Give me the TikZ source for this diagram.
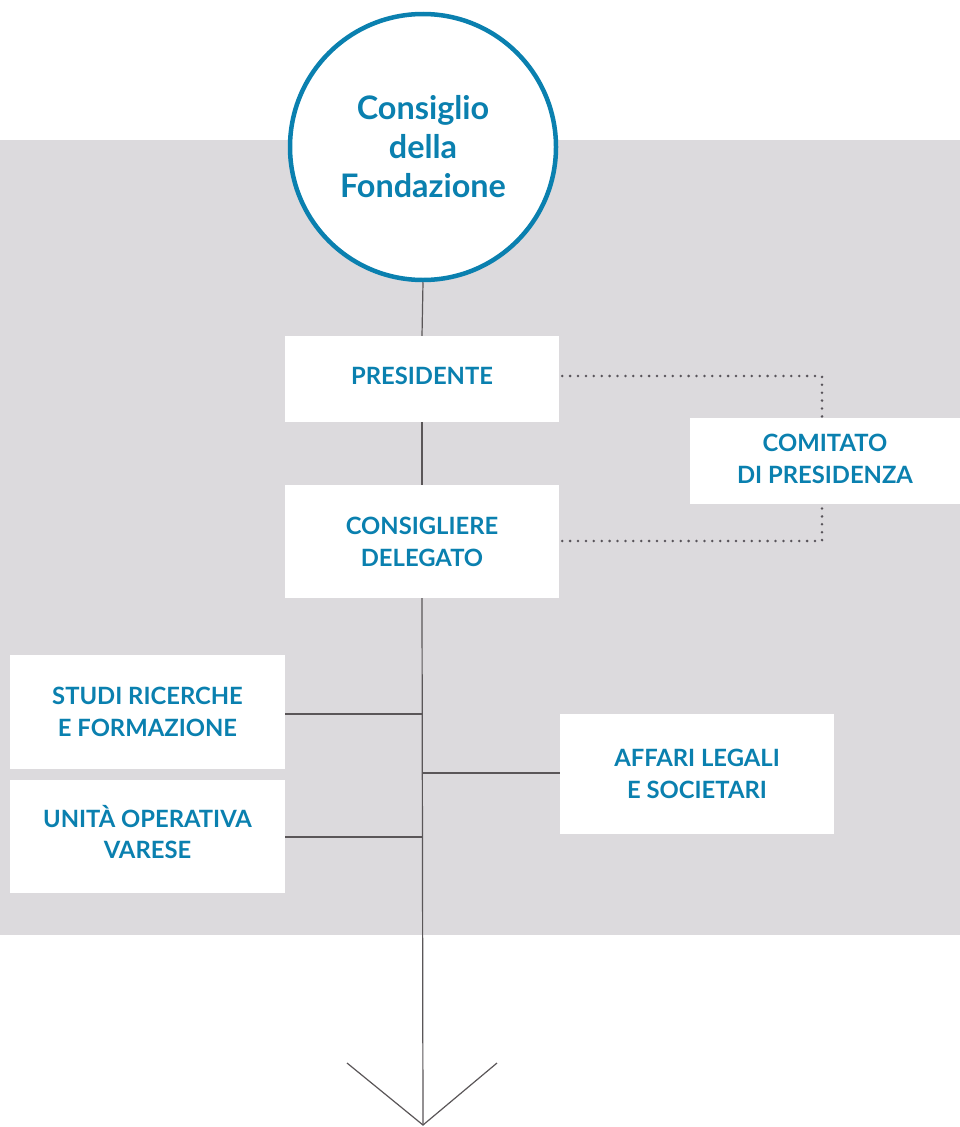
\documentclass[tikz,border=0pt]{standalone}
\usepackage{fontspec}
\setmainfont{Lato}
\definecolor{bgray}{HTML}{DCDADD}
\definecolor{tblue}{HTML}{0A80AF}
\definecolor{lgray}{HTML}{5A5658}
\definecolor{dgray}{HTML}{58545A}
\begin{document}
\begin{tikzpicture}[x=1pt,y=-1pt,
  box/.style={fill=white,draw=none,inner sep=0pt,align=center,text=tblue,
    font=\fontsize{23.8}{32}\selectfont\bfseries},
  conn/.style={draw=lgray,line width=1.2pt},
  dots/.style={draw=dgray,line width=2.8pt,line cap=round,dash pattern=on 0pt off 7.9pt}]
\useasboundingbox (0,0) rectangle (960,1127);
\fill[white] (0,0) rectangle (960,1127);
\fill[bgray] (0,140) rectangle (960,935);
% nodes
\node[box,minimum width=274pt,minimum height=86pt] (pres) at (422,379) {\raisebox{7pt}{PRESIDENTE}};
\node[box,minimum width=274pt,minimum height=113pt] (cons) at (422,541.5) {CONSIGLIERE\\DELEGATO};
\node[box,minimum width=270pt,minimum height=86pt] (comi) at (825,461) {\raisebox{1pt}{\begin{tabular}{@{}c@{}}COMITATO\\[-0.5pt]DI PRESIDENZA\end{tabular}}};
\node[box,minimum width=275pt,minimum height=114pt] (studi) at (147.5,711.5) {STUDI RICERCHE\\E FORMAZIONE};
\node[box,minimum width=275pt,minimum height=113pt] (unita) at (147.5,836.5) {\raisebox{5pt}{\begin{tabular}{@{}c@{}}UNITÀ OPERATIVA\\[-0.5pt]VARESE\end{tabular}}};
\node[box,minimum width=274pt,minimum height=120pt] (aff) at (697,774) {AFFARI LEGALI\\E SOCIETARI};
% trunk
\coordinate (tip) at (423,1125);
\coordinate (armL) at (347,1063);
\coordinate (armR) at (497,1063);
\coordinate (jS) at (423,714);
\coordinate (jU) at (423,837);
\coordinate (jA) at (423,773);
\node[circle,draw=tblue,line width=4.5pt,fill=white,minimum size=266pt,inner sep=0pt,
  align=center,text=tblue,font=\fontsize{32.4}{39}\selectfont\bfseries] (cda) at (423,147) {Consiglio\\della\\Fondazione};
\draw[conn] (cda.south) -- (pres.north);
\draw[conn] (pres.south) -- (cons.north);
\draw[conn] (cons.south) -- (tip);
\draw[conn] (armL) -- (tip) -- (armR);
\draw[conn] (studi.east |- jS) -- (jS);
\draw[conn] (unita.east |- jU) -- (jU);
\draw[conn] (jA) -- (aff.west |- jA);
% dotted links
\draw[dots] ([xshift=3pt]pres.east |- 0,376) -| (comi.north -| 822,0);
\draw[dots] ([xshift=3pt]cons.east |- 0,541) -| (comi.south -| 822,0);
\end{tikzpicture}
\end{document}
